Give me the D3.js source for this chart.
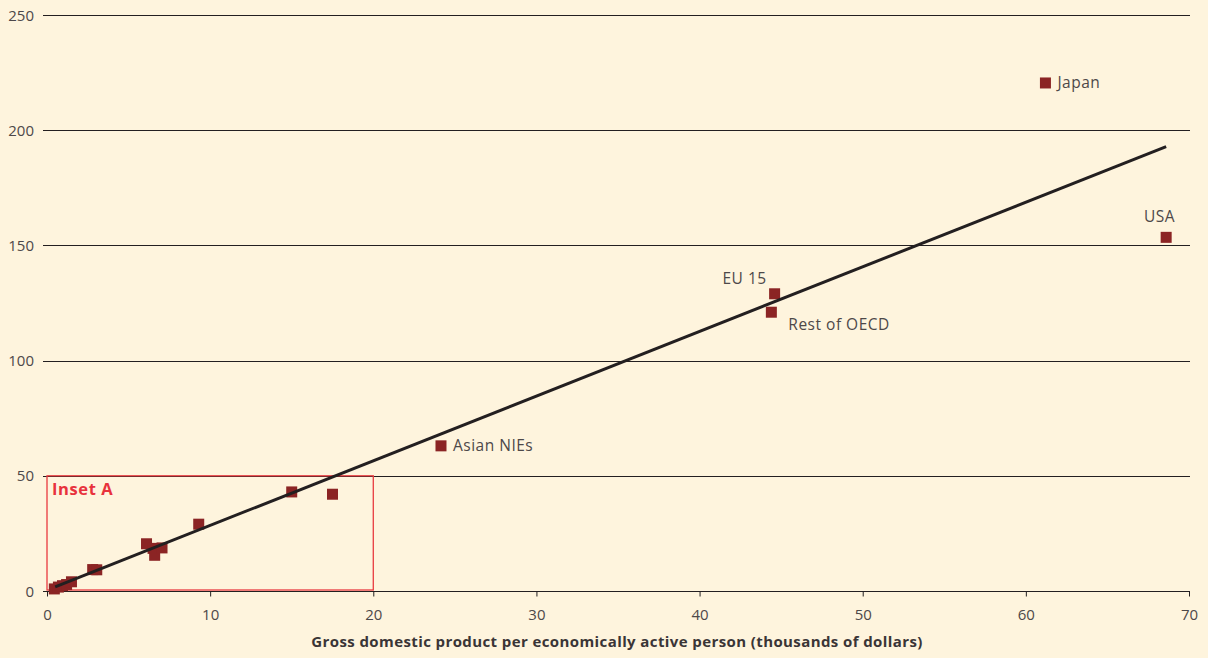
<!DOCTYPE html>
<html>
<head>
<meta charset="utf-8">
<script src="https://cdn.jsdelivr.net/npm/d3@7/dist/d3.min.js"></script>
<style>
  html, body { margin: 0; padding: 0; background: #fef4dd; }
  svg { display: block; font-family: "Open Sans", Lato, sans-serif; }
</style>
</head>
<body>
<svg id="chart" width="1208" height="658"></svg>
<script>
// GDP per economically active person (thousands of dollars)
const gdp = [61.2, 68.6, 44.6, 44.4, 24.15, 15.0, 17.5, 9.3, 6.1, 6.5, 6.6, 7.05, 2.8, 3.05, 0.45, 0.7, 0.95, 1.2, 1.5];
// y values
const values = [220.5, 153.5, 129, 121, 63, 43, 42, 29, 20.5, 18.5, 15.5, 18.7, 9.3, 9.2, 0.9, 1.7, 2.3, 2.8, 4];
const names = ["Japan", "USA", "EU 15", "Rest of OECD", "Asian NIEs", "", "", "", "", "", "", "", "", "", "", "", "", "", ""];

// fitted line endpoints
const trendX = [0.5, 68.6];
const trendY = [1.8, 192.9];

const xTicks = [0, 10, 20, 30, 40, 50, 60, 70];
const yTicks = [0, 50, 100, 150, 200, 250];
const inset = { x0: 0, x1: 20, y0: 0, y1: 50 };

const svg = d3.select("#chart");
const margin = { left: 47, right: 19, top: 15, bottom: 67 };
const width = 1208, height = 658;
const textColor = "#4d4849";

const x = d3.scaleLinear().domain([0, 70]).range([margin.left, width - margin.right]);
const y = d3.scaleLinear().domain([0, 250]).range([height - margin.bottom, margin.top]);

// gridlines
svg.append("g")
    .selectAll("line")
    .data(yTicks.filter(d => d > 0))
    .enter().append("line")
    .attr("x1", x(0) - 4)
    .attr("x2", x(70) + 1)
    .attr("y1", d => Math.round(y(d)) + 0.5)
    .attr("y2", d => Math.round(y(d)) + 0.5)
    .attr("stroke", "#231f20")
    .attr("stroke-width", 1);

// y axis labels
svg.append("g")
    .selectAll("text")
    .data(yTicks)
    .enter().append("text")
    .attr("x", 34)
    .attr("y", d => y(d) + 5.5)
    .attr("text-anchor", "end")
    .attr("font-size", 15)
    .attr("fill", textColor)
    .text(d => d);

// x axis
const xAxis = svg.append("g")
    .attr("transform", `translate(0, ${Math.round(y(0)) + 0.5})`)
    .call(d3.axisBottom(x).tickValues(xTicks).tickSize(5).tickPadding(13).tickSizeOuter(0));
xAxis.select(".domain").attr("stroke", "#231f20").attr("d", `M${x(0) - 4},0H${x(70) + 1}`);
xAxis.selectAll(".tick line").attr("stroke", "#231f20");
xAxis.selectAll(".tick text")
    .attr("font-size", 15)
    .attr("font-family", "'Open Sans', Lato, sans-serif")
    .attr("fill", textColor);

// axis title
svg.append("text")
    .attr("x", 617)
    .attr("y", 647)
    .attr("text-anchor", "middle")
    .attr("font-size", 15)
    .attr("letter-spacing", 0.4)
    .attr("font-weight", "bold")
    .attr("fill", "#3a3536")
    .text("Gross domestic product per economically active person (thousands of dollars)");

// inset box
svg.append("rect")
    .attr("x", x(inset.x0))
    .attr("y", y(inset.y1))
    .attr("width", x(inset.x1) - x(inset.x0))
    .attr("height", y(inset.y0) - y(inset.y1) - 1)
    .attr("fill", "none")
    .attr("stroke", "#e83a3f")
    .attr("stroke-width", 1.3);

svg.append("text")
    .attr("x", x(inset.x0) + 5)
    .attr("y", y(inset.y1) + 19)
    .attr("font-size", 16.5)
    .attr("letter-spacing", 0.6)
    .attr("font-weight", "bold")
    .attr("fill", "#e8323c")
    .text("Inset A");

// points
const pts = gdp.map((g, i) => ({ x: g, y: values[i], name: names[i] }));
const size = 11;

svg.append("g")
    .selectAll("rect")
    .data(pts)
    .enter().append("rect")
    .attr("x", d => x(d.x) - size / 2)
    .attr("y", d => y(d.y) - size / 2)
    .attr("width", size)
    .attr("height", size)
    .attr("fill", "#8b2424");

// trend line (drawn over the points)
svg.append("line")
    .attr("x1", x(trendX[0]))
    .attr("y1", y(trendY[0]))
    .attr("x2", x(trendX[1]))
    .attr("y2", y(trendY[1]))
    .attr("stroke", "#231f20")
    .attr("stroke-width", 3);

// point labels
const labelPos = {
    "Japan": { dx: 12, dy: 5, anchor: "start" },
    "USA": { dx: 9, dy: -15, anchor: "end" },
    "EU 15": { dx: -8, dy: -10, anchor: "end" },
    "Rest of OECD": { dx: 17, dy: 18, anchor: "start" },
    "Asian NIEs": { dx: 12, dy: 5, anchor: "start" }
};

svg.append("g")
    .selectAll("text")
    .data(pts.filter(d => d.name))
    .enter().append("text")
    .attr("x", d => x(d.x) + labelPos[d.name].dx)
    .attr("y", d => y(d.y) + labelPos[d.name].dy)
    .attr("text-anchor", d => labelPos[d.name].anchor)
    .attr("font-size", 15.5)
    .attr("letter-spacing", 0.5)
    .attr("fill", textColor)
    .text(d => d.name);
</script>
</body>
</html>
